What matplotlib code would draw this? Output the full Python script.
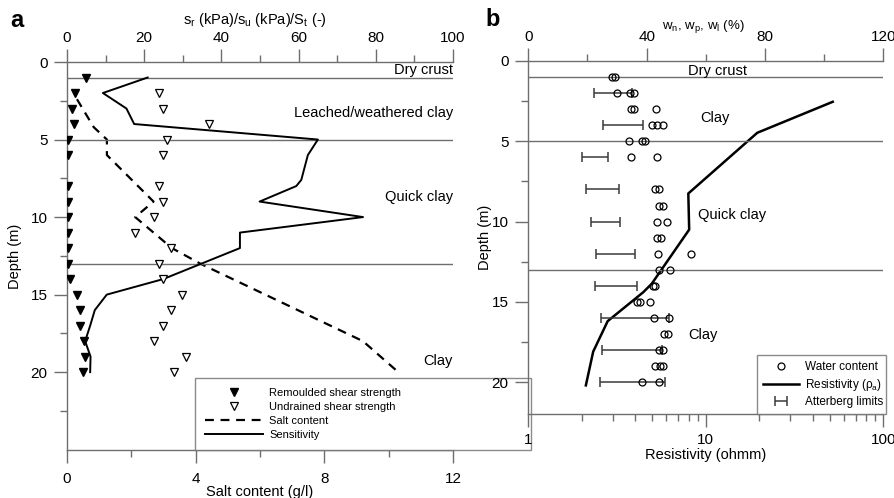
import numpy as np
import matplotlib
matplotlib.use("Agg")
import matplotlib.pyplot as plt
from matplotlib.ticker import MultipleLocator, FixedLocator, NullFormatter, LogLocator

plt.rcParams['font.family'] = ['Liberation Sans', 'DejaVu Sans']

# ---------------- Panel a data ----------------
depth_remoulded = [1, 2, 3, 4, 5, 6, 8, 9, 10, 11, 12, 13, 14, 15, 16, 17, 18, 19, 20]
s_remoulded = [5.0, 2.1, 1.3, 1.9, 0.2, 0.3, 0.3, 0.3, 0.2, 0.3, 0.3, 0.3, 0.8, 2.7, 3.4, 3.4, 4.4, 4.7, 4.2]

depth_undrained = [2, 3, 4, 5, 6, 8, 9, 10, 11, 12, 13, 14, 15, 16, 17, 18, 19, 20]
s_undrained = [23.8, 24.8, 36.9, 25.9, 24.8, 23.9, 24.8, 22.6, 17.6, 26.9, 23.9, 24.8, 29.7, 26.9, 24.8, 22.6, 30.8, 27.7]

depth_sens = [1, 2, 3, 4, 5, 6, 7.6, 8, 9, 10, 11, 12, 14, 15, 16, 17, 18, 19, 20]
sensitivity = [20.9, 9.3, 15.4, 17.4, 65.0, 62.4, 60.7, 59.4, 49.9, 76.7, 44.8, 44.8, 24.9, 10.3, 7.2, 6.0, 4.7, 6.1, 6.0]

depth_salt = [2.4, 4.2, 5, 6, 9, 10, 12, 13, 18, 20]
salt = [0.31, 0.83, 1.24, 1.24, 2.69, 2.12, 3.26, 4.14, 9.2, 10.3]

# ---------------- Panel b data ----------------
depth_rho = [2.54, 4.47, 8.25, 10.5, 13.87, 14.4, 16.2, 18.1, 20.2]
resistivity = [51.9, 19.5, 7.97, 8.06, 4.96, 4.44, 2.8, 2.32, 2.11]

depth_w = [1, 1, 2, 2, 2, 3, 3, 3, 4, 4, 4, 5, 5, 5, 6, 6, 8, 8, 9, 9, 10, 10,
           11, 11, 12, 12, 13, 13, 14, 14, 15, 15, 15, 16, 16, 17, 17, 18, 18,
           19, 19, 19, 20, 20]
water = [28.3, 29.4, 30.0, 34.5, 35.6, 34.6, 35.6, 43.3, 41.8, 43.5, 45.6,
         34.2, 38.4, 39.6, 34.7, 43.5, 42.9, 44.1, 44.1, 45.6, 43.5, 46.9,
         43.5, 44.9, 43.7, 55.0, 44.1, 48.0, 42.2, 42.9, 36.7, 37.9, 41.0,
         42.6, 47.5, 45.8, 47.1, 44.1, 45.6, 42.9, 44.4, 45.6, 38.6, 44.1]

depth_att = [2, 4, 6, 8, 10, 12, 14, 16, 18, 20]
w_plastic = [22.3, 25.4, 18.1, 19.6, 21.1, 22.9, 22.4, 24.6, 24.9, 24.1]
w_liquid = [35.0, 38.8, 26.9, 30.5, 31.1, 36.2, 36.9, 47.5, 45.2, 46.3]

layer_bounds = [1, 5, 13]

GREY = '#6e6e6e'
W, H = 895, 498
fig = plt.figure(figsize=(W / 100, H / 100), dpi=100)


def px_axes(x0, x1, y0, y1):
    return fig.add_axes([x0 / W, 1 - y1 / H, (x1 - x0) / W, (y1 - y0) / H])


def style_spines(ax, visible):
    for name, sp in ax.spines.items():
        sp.set_visible(name in visible)
        sp.set_color(GREY)
        sp.set_linewidth(1.0)


def style_ticks(axes_list, bottom_pad, top_pad, left_pad):
    for a in axes_list:
        a.tick_params(which='major', direction='out', length=9.4, width=1.0,
                      color=GREY, labelsize=TICK_FS)
        a.tick_params(which='minor', direction='out', length=5, width=1.0, color=GREY)
    axes_list[0].tick_params(axis='x', which='major', pad=bottom_pad)
    axes_list[0].tick_params(axis='y', which='major', pad=left_pad)
    axes_list[1].tick_params(axis='x', which='major', pad=top_pad)
    axes_list[1].tick_params(axis='y', left=False, right=False,
                             labelleft=False, labelright=False)


TICK_FS = 11
TXT_FS = 10.5

# ================= Panel a =================
ax = px_axes(67, 453, 62, 449.7)
ax.set_xlim(0, 12)
ax.set_ylim(25, 0)
axt = ax.twiny()
axt.set_xlim(0, 100)
axt.set_ylim(25, 0)
style_spines(ax, ['left', 'bottom'])
style_spines(axt, ['top'])
ax.patch.set_visible(False)

ax.xaxis.set_major_locator(FixedLocator([0, 4, 8, 12]))
ax.xaxis.set_minor_locator(FixedLocator([2, 6, 10]))
ax.yaxis.set_major_locator(FixedLocator([0, 5, 10, 15, 20]))
ax.yaxis.set_minor_locator(FixedLocator([2.5, 7.5, 12.5, 17.5, 22.5]))
axt.xaxis.set_major_locator(MultipleLocator(20))
axt.xaxis.set_minor_locator(MultipleLocator(10))
style_ticks([ax, axt], bottom_pad=6.6, top_pad=3.0, left_pad=4.7)

axt.hlines(layer_bounds, 0, 100, color=GREY, lw=1.0, zorder=1)

h_salt, = ax.plot(salt, depth_salt, color='black', lw=1.6, ls=(0, (4, 3)),
                  label='Salt content', zorder=3)
h_sens, = axt.plot(sensitivity, depth_sens, color='black', lw=1.4,
                   label='Sensitivity', zorder=3)
h_rem, = axt.plot(s_remoulded, depth_remoulded, ls='none', marker='v', ms=6,
                  mfc='black', mec='black', label='Remoulded shear strength', zorder=4)
h_und, = axt.plot(s_undrained, depth_undrained, ls='none', marker='v', ms=6,
                  mfc='white', mec='black', mew=0.9, label='Undrained shear strength', zorder=4)

leg = axt.legend(handles=[h_rem, h_und, h_salt, h_sens], loc='lower left',
                 bbox_to_anchor=((195 - 67) / 386, 0, (403 - 67) / 386, 0.19),
                 mode='expand', borderaxespad=0, fontsize=8, frameon=True,
                 fancybox=False, handlelength=5.2, labelspacing=0.35,
                 handletextpad=0.6, borderpad=0.9)
leg.get_frame().set_edgecolor(GREY)
leg.get_frame().set_linewidth(1.0)

axt.text(100, 0.5, 'Dry crust', ha='right', va='center', fontsize=TXT_FS)
axt.text(100, 3.3, 'Leached/weathered clay', ha='right', va='center', fontsize=TXT_FS)
axt.text(100, 8.73, 'Quick clay', ha='right', va='center', fontsize=TXT_FS)
axt.text(100, 19.27, 'Clay', ha='right', va='center', fontsize=TXT_FS)

fig.text(255 / W, 1 - 20 / H, r'$\mathregular{s_r}$ (kPa)/$\mathregular{s_u}$ (kPa)/$\mathregular{S_t}$ (-)',
         ha='center', va='center', fontsize=10.5)
fig.text(260 / W, 1 - 491.5 / H, 'Salt content (g/l)', ha='center', va='center', fontsize=10.5)
fig.text(15 / W, 1 - 256 / H, 'Depth (m)', ha='center', va='center', rotation=90, fontsize=10.5)
fig.text(16.5 / W, 1 - 20 / H, 'a', ha='center', va='center', fontsize=17, fontweight='bold')

# ================= Panel b =================
bx = px_axes(528.3, 883.3, 61, 414.3)
bx.set_xscale('log')
bx.set_xlim(1, 100)
bx.set_ylim(22, 0)
bxt = bx.twiny()
bxt.set_xlim(0, 120)
bxt.set_ylim(22, 0)
style_spines(bx, ['left', 'bottom'])
style_spines(bxt, ['top'])
bx.patch.set_visible(False)

bx.xaxis.set_major_locator(LogLocator(base=10, numticks=5))
bx.xaxis.set_minor_locator(LogLocator(base=10, subs=np.arange(2, 10), numticks=20))
bx.xaxis.set_minor_formatter(NullFormatter())
bx.xaxis.set_major_formatter(plt.FuncFormatter(lambda v, p: f'{v:g}'))
bx.yaxis.set_major_locator(MultipleLocator(5))
bx.yaxis.set_minor_locator(MultipleLocator(2.5))
bxt.xaxis.set_major_locator(MultipleLocator(40))
bxt.xaxis.set_minor_locator(MultipleLocator(20))
style_ticks([bx, bxt], bottom_pad=4.2, top_pad=3.0, left_pad=4.7)

bxt.hlines(layer_bounds, 0, 120, color=GREY, lw=1.0, zorder=1)

w_mid = (np.array(w_plastic) + np.array(w_liquid)) / 2
w_half = (np.array(w_liquid) - np.array(w_plastic)) / 2
h_att = bxt.errorbar(w_mid, depth_att, xerr=w_half, fmt='none', ecolor='#3a3a3a',
                     elinewidth=1.1, capsize=3.5, capthick=1.1, label='Atterberg limits', zorder=3)
h_w, = bxt.plot(water, depth_w, ls='none', marker='o', ms=5, mfc='none', mec='black',
                mew=0.9, label='Water content', zorder=4)
h_rho, = bx.plot(resistivity, depth_rho, color='black', lw=1.8,
                 label=r'Resistivity ($\mathregular{\rho_a}$)', zorder=3)

leg2 = bxt.legend(handles=[h_w, h_rho, h_att], loc='lower left',
                  bbox_to_anchor=((757.3 - 528.3) / 355, 0, (886.5 - 757.3) / 355, 0.17),
                  mode='expand', borderaxespad=0, fontsize=8.5, frameon=True,
                  fancybox=False, handlelength=3.0, labelspacing=0.3,
                  handletextpad=0.5, borderpad=0.5)
leg2.get_frame().set_edgecolor(GREY)
leg2.get_frame().set_linewidth(1.0)

bxt.text(63.9, 0.6, 'Dry crust', ha='center', va='center', fontsize=TXT_FS)
bxt.text(58.2, 3.57, 'Clay', ha='left', va='center', fontsize=TXT_FS)
bxt.text(57.4, 9.6, 'Quick clay', ha='left', va='center', fontsize=TXT_FS)
bxt.text(54.2, 17.05, 'Clay', ha='left', va='center', fontsize=TXT_FS)

fig.text(703 / W, 1 - 27 / H, r'$\mathregular{w_n}$, $\mathregular{w_p}$, $\mathregular{w_l}$ (%)',
         ha='center', va='center', fontsize=9.5)
fig.text(705.5 / W, 1 - 455 / H, 'Resistivity (ohmm)', ha='center', va='center', fontsize=10.5)
fig.text(485 / W, 1 - 237 / H, 'Depth (m)', ha='center', va='center', rotation=90, fontsize=10.5)
fig.text(493 / W, 1 - 19.5 / H, 'b', ha='center', va='center', fontsize=17, fontweight='bold')

fig.savefig('out.png', dpi=100)
